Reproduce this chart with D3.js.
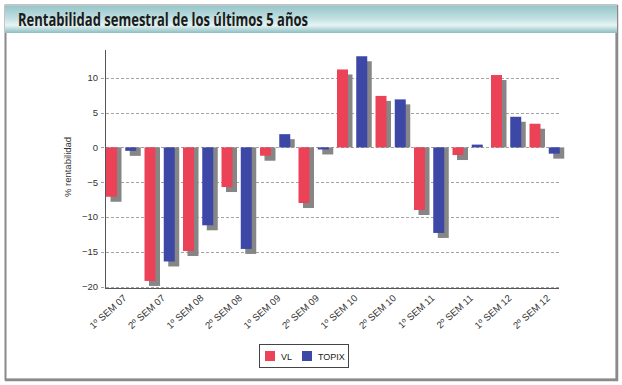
<!DOCTYPE html>
<html lang="es">
<head>
<meta charset="UTF-8" />
<title>Rentabilidad semestral</title>
<script src="https://d3js.org/d3.v7.min.js"></script>
<style>
  body { margin: 0; background: #fff; }
  svg { display: block; font-family: "Liberation Sans", Arial, sans-serif; }
</style>
</head>
<body>
<svg id="chart" width="622" height="385"></svg>
<script>
// data
const categories = ["1º SEM 07", "2º SEM 07", "1º SEM 08", "2º SEM 08", "1º SEM 09", "2º SEM 09",
                    "1º SEM 10", "2º SEM 10", "1º SEM 11", "2º SEM 11", "1º SEM 12", "2º SEM 12"];
const seriesNames = ["VL", "TOPIX"];
const vlValues = [-7.1, -19.2, -14.9, -5.7, -1.2, -8.0, 11.2, 7.4, -9.0, -1.1, 10.4, 3.4];
const topixValues = [-0.5, -16.4, -11.2, -14.6, 1.9, -0.3, 13.1, 6.9, -12.3, 0.4, 4.4, -0.9];
const yTicks = [-20, -15, -10, -5, 0, 5, 10];

const colors = { VL: "#ec4257", TOPIX: "#3d47a6" };
const shadowColor = "#868686";

const svg = d3.select("#chart");

// frame + title bar
const defs = svg.append("defs");
const grad = defs.append("linearGradient").attr("id", "titleGrad")
  .attr("x1", 0).attr("y1", 0).attr("x2", 0).attr("y2", 1);
grad.append("stop").attr("offset", "0%").attr("stop-color", "#93c4c8");
grad.append("stop").attr("offset", "50%").attr("stop-color", "#c4e1e3");
grad.append("stop").attr("offset", "72%").attr("stop-color", "#e8f4f4");
grad.append("stop").attr("offset", "100%").attr("stop-color", "#8bbec2");

svg.append("rect").attr("x", 5.5).attr("y", 5.5).attr("width", 611).attr("height", 374)
  .attr("fill", "#fff").attr("stroke", "#8a8a8a").attr("stroke-width", 2);
// heavier right/bottom edge like the reference frame
svg.append("line").attr("x1", 617).attr("x2", 617).attr("y1", 5).attr("y2", 381)
  .attr("stroke", "#8a8a8a").attr("stroke-width", 2.5);
svg.append("line").attr("x1", 5).attr("x2", 618).attr("y1", 380).attr("y2", 380)
  .attr("stroke", "#8a8a8a").attr("stroke-width", 2.5);
svg.append("rect").attr("x", 5).attr("y", 5).attr("width", 612).attr("height", 28)
  .attr("fill", "url(#titleGrad)");
svg.append("line").attr("x1", 5).attr("x2", 617).attr("y1", 5.5).attr("y2", 5.5)
  .attr("stroke", "#b9c9ca");
svg.append("text").attr("x", 18).attr("y", 26)
  .attr("font-family", "'Open Sans', sans-serif").attr("font-weight", 700)
  .attr("font-size", 17).attr("fill", "#1b1b1b")
  .attr("textLength", 290).attr("lengthAdjust", "spacingAndGlyphs")
  .text("Rentabilidad semestral de los últimos 5 años");

// scales
const plotLeft = 105, plotRight = 559;
const y = d3.scaleLinear().domain([-20, 14]).range([286.5, 50]);
const x0 = d3.scaleBand().domain(categories).range([106, 106 + 38.5 * 12]);
const x1 = d3.scaleBand().domain(seriesNames).range([0, x0.bandwidth()]);
const barW = 11;
const shadowDx = 4.5, shadowDy = 5;

// grid
const grid = svg.append("g");
grid.selectAll("line").data(yTicks).join("line")
  .attr("x1", plotLeft - 4).attr("x2", plotRight)
  .attr("y1", d => Math.round(y(d)) + 0.5).attr("y2", d => Math.round(y(d)) + 0.5)
  .attr("stroke", "#8c8c8c").attr("stroke-width", 0.8).attr("stroke-dasharray", "3,2");

// bars
const rows = categories.map((c, i) => ({ cat: c, VL: vlValues[i], TOPIX: topixValues[i] }));
const y0 = y(0);
const groups = svg.append("g").selectAll("g").data(rows).join("g")
  .attr("transform", d => `translate(${x0(d.cat)},0)`);

const cells = groups.selectAll("g").data(d => seriesNames.map(k => ({ key: k, value: d[k] })))
  .join("g");

cells.append("rect")
  .attr("x", d => x1(d.key) + shadowDx)
  .attr("width", barW)
  .attr("y", d => d.value < 0 ? y0 : Math.min(y(d.value) + shadowDy, y0))
  .attr("height", d => d.value < 0 ? y(d.value) + shadowDy - y0 : Math.max(0, y0 - y(d.value) - shadowDy))
  .attr("fill", shadowColor);

cells.append("rect")
  .attr("x", d => x1(d.key))
  .attr("width", barW)
  .attr("y", d => Math.min(y(d.value), y0))
  .attr("height", d => Math.abs(y(d.value) - y0))
  .attr("fill", d => colors[d.key]);

// axes
const yAxis = svg.append("g").attr("transform", `translate(${plotLeft},0)`)
  .call(d3.axisLeft(y).tickValues(yTicks).tickSize(0).tickPadding(7));
yAxis.select(".domain").remove();
yAxis.selectAll("text").attr("font-size", 9.5).attr("fill", "#333");
svg.append("line").attr("x1", plotLeft + 0.5).attr("x2", plotLeft + 0.5)
  .attr("y1", 50).attr("y2", 289).attr("stroke", "#555").attr("stroke-width", 1);
svg.append("line").attr("x1", plotLeft).attr("x2", plotRight)
  .attr("y1", 288.5).attr("y2", 288.5).attr("stroke", "#555").attr("stroke-width", 1);

svg.append("text")
  .attr("transform", "translate(71,167) rotate(-90)")
  .attr("text-anchor", "middle").attr("font-size", 9.5).attr("fill", "#333")
  .text("% rentabilidad");

svg.append("g").selectAll("text").data(categories).join("text")
  .attr("transform", d => `translate(${x0(d) + x0.bandwidth() / 2 + 2},299) rotate(-42)`)
  .attr("text-anchor", "end").attr("font-size", 9.6).attr("fill", "#333")
  .text(d => d);

// legend
const legend = svg.append("g").attr("transform", "translate(259,344)");
legend.append("rect").attr("x", 0.5).attr("y", 0.5).attr("width", 89).attr("height", 23)
  .attr("fill", "#fff").attr("stroke", "#444");
const items = [{ key: "VL", x: 6 }, { key: "TOPIX", x: 43 }];
legend.selectAll("rect.sw").data(items).join("rect").attr("class", "sw")
  .attr("x", d => d.x).attr("y", 7).attr("width", 10).attr("height", 10)
  .attr("fill", d => colors[d.key]);
legend.selectAll("text").data(items).join("text")
  .attr("x", d => d.x + 16).attr("y", 15.5)
  .attr("font-size", 9).attr("fill", "#222")
  .text(d => d.key);
</script>
</body>
</html>
